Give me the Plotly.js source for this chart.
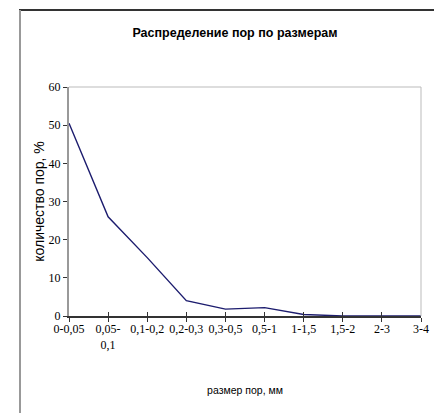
<!DOCTYPE html>
<html><head><meta charset="utf-8">
<script src="https://cdn.plot.ly/plotly-3.0.1.min.js"></script>
<style>html,body{margin:0;padding:0;background:#fff}#c{width:434px;height:413px}</style>
</head><body><div id="c"></div>
<script>
const categories = ["0-0,05","0,05-<br>0,1","0,1-0,2","0,2-0,3","0,3-0,5","0,5-1","1-1,5","1,5-2","2-3","3-4"];
const poreShare = [50.5, 26, 15.3, 4, 1.8, 2.2, 0.4, 0, 0, 0];
const chartTitle = "Распределение пор по размерам";
const xTitle = "размер пор, мм";
const yTitle = "количество пор, %";

const serif = "'Liberation Serif', 'DejaVu Serif', serif";
const sans = "'Liberation Sans', Arial, sans-serif";

const trace = {
  x: categories, y: poreShare, type: "scatter", mode: "lines",
  line: {color: "#1c1c6e", width: 1.4}, hoverinfo: "skip"
};
const tickTrace = {x: categories, y: poreShare, xaxis: "x2", type: "scatter", mode: "none", hoverinfo: "skip"};

const layout = {
  width: 434, height: 413,
  margin: {l: 69, r: 13, t: 87, b: 97},
  paper_bgcolor: "#fff", plot_bgcolor: "#fff",
  showlegend: false,
  title: {text: chartTitle, x: 0.5415, xref: "container", xanchor: "center", y: 1 - 33/413, yref: "container", yanchor: "middle",
    font: {family: sans, size: 12.5, color: "#000", weight: "bold"}},
  xaxis: {type: "category", range: [0, 9], showgrid: false, zeroline: false,
    showline: true, linecolor: "#333", linewidth: 2,
    ticks: "outside", ticklen: 4, tickcolor: "#333", tickwidth: 1,
    ticklabelstandoff: -3,
    tickfont: {family: serif, size: 12, color: "#000"}, tickangle: 0,
    title: {text: xTitle, font: {family: sans, size: 10.5, color: "#000"}, standoff: 36}},
  xaxis2: {type: "category", range: [0, 9], overlaying: "x", anchor: "y", side: "bottom",
    showgrid: false, zeroline: false, showline: false, showticklabels: false,
    ticks: "inside", ticklen: 4, tickcolor: "#333", tickwidth: 1},
  yaxis: {range: [0, 60], dtick: 10, showgrid: false, zeroline: false,
    showline: true, linecolor: "#999", linewidth: 2,
    ticks: "outside", ticklen: 4, tickcolor: "#333", tickwidth: 1,
    tickfont: {family: serif, size: 12, color: "#000"},
    title: {text: yTitle, font: {family: sans, size: 14, color: "#000"}, standoff: 1}},
  shapes: [
    {type: "line", xref: "paper", yref: "paper", x0: 0, x1: 1, y0: 1, y1: 1, line: {color: "#bbb", width: 1}},
    {type: "line", xref: "paper", yref: "paper", x0: 1, x1: 1, y0: 0, y1: 1, line: {color: "#bbb", width: 1}},
    {type: "line", xref: "paper", yref: "paper", x0: (19 - 69) / 352, x1: (434 - 69) / 352, y0: (316 - 10) / 229, y1: (316 - 10) / 229, line: {color: "#333", width: 2}},
    {type: "line", xref: "paper", yref: "paper", x0: (20 - 69) / 352, x1: (20 - 69) / 352, y0: (316 - 10) / 229, y1: (316 - 413) / 229, line: {color: "#999", width: 2}}
  ]
};
Plotly.newPlot("c", [trace, tickTrace], layout, {staticPlot: true, displayModeBar: false});
</script></body></html>
